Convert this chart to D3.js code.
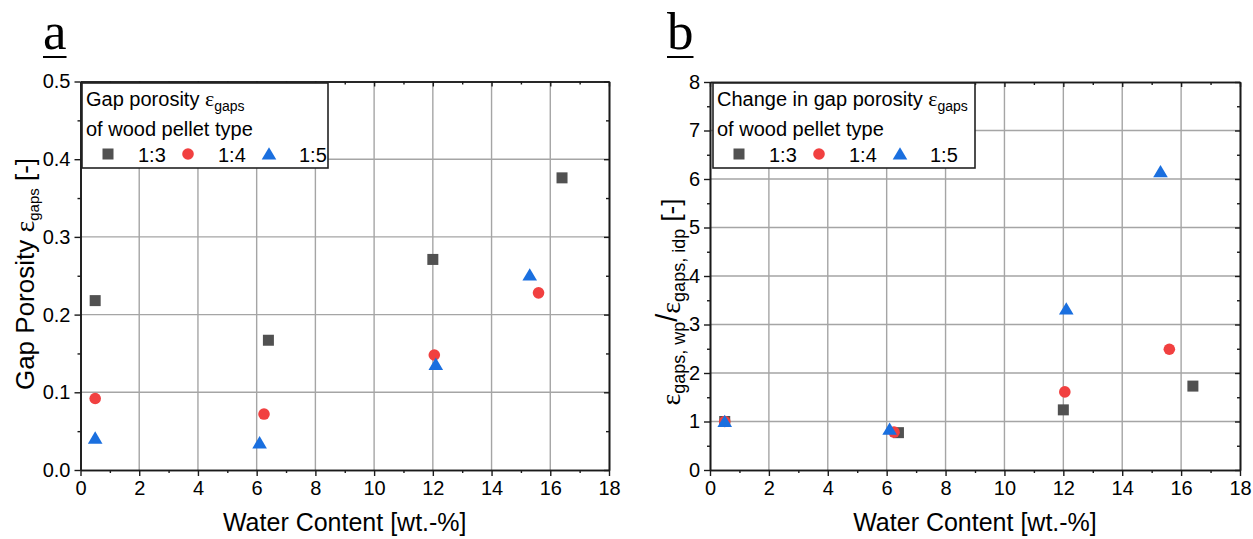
<!DOCTYPE html>
<html>
<head>
<meta charset="utf-8">
<script src="https://cdn.jsdelivr.net/npm/d3@7"></script>
<style>
  body { margin: 0; background: #fff; }
  svg { display: block; }
  text { font-family: "Liberation Sans", Arial, sans-serif; fill: #000; }
</style>
</head>
<body>
<svg id="chart" width="1253" height="539"></svg>
<script>
// Pellet types (mass ratios)
const seriesNames = ["1:3", "1:4", "1:5"];

// Water content [wt.-%] per pellet type
const water13 = [0.5, 6.4, 12.0, 16.4];
const water14 = [0.5, 6.25, 12.05, 15.6];
const water15 = [0.5, 6.1, 12.1, 15.3];

// Gap porosity [-]
const gap13 = [0.218, 0.167, 0.271, 0.376];
const gap14 = [0.092, 0.072, 0.148, 0.228];
const gap15 = [0.041, 0.035, 0.136, 0.251];

// Gap porosity relative to the initial (dry) state [-]
const ratio13 = [1.0, 0.77, 1.24, 1.73];
const ratio14 = [1.0, 0.78, 1.61, 2.49];
const ratio15 = [1.0, 0.84, 3.32, 6.15];

// Tick values
const xTicks = [0, 2, 4, 6, 8, 10, 12, 14, 16, 18];
const xMinor = [1, 3, 5, 7, 9, 11, 13, 15, 17];
const yTicksA = [0, 0.1, 0.2, 0.3, 0.4, 0.5];
const yMinorA = [0.05, 0.15, 0.25, 0.35, 0.45];
const yTicksB = [0, 1, 2, 3, 4, 5, 6, 7, 8];
const yMinorB = [0.5, 1.5, 2.5, 3.5, 4.5, 5.5, 6.5, 7.5];

const colors = ["#515151", "#F14040", "#1A6FDF"];
const shapes = ["square", "circle", "triangle"];
const serif = '"Liberation Serif", "Times New Roman", serif';

const svg = d3.select("#chart");

function marker(g, shape, color, x, y) {
  if (shape === "square") {
    g.append("rect").attr("x", x - 5.5).attr("y", y - 5.5)
      .attr("width", 11).attr("height", 11).attr("fill", color);
  } else if (shape === "circle") {
    g.append("circle").attr("cx", x).attr("cy", y).attr("r", 5.8).attr("fill", color);
  } else {
    g.append("path").attr("d", `M${x},${y - 6.8}L${x + 7.3},${y + 5.6}L${x - 7.3},${y + 5.6}Z`)
      .attr("fill", color);
  }
}

function panel(cfg) {
  const { left, right, top, bottom } = cfg.box;
  const x = d3.scaleLinear().domain([0, 18]).range([left, right]);
  const y = d3.scaleLinear().domain(cfg.yDomain).range([bottom, top]);
  const g = svg.append("g");

  // grid
  const grid = g.append("g").attr("stroke", "#a5a5a5").attr("stroke-width", 1.4);
  xTicks.slice(1, -1).forEach(t => grid.append("line")
    .attr("x1", x(t)).attr("x2", x(t)).attr("y1", top).attr("y2", bottom));
  cfg.yTicks.slice(1, -1).forEach(t => grid.append("line")
    .attr("x1", left).attr("x2", right).attr("y1", y(t)).attr("y2", y(t)));

  // axes: outward ticks on bottom/left, inward on top/right
  const styleAxis = sel => {
    sel.select(".domain").attr("stroke", "#1a1a1a").attr("stroke-width", 1.6);
    sel.selectAll(".tick line").attr("stroke", "#1a1a1a").attr("stroke-width", 1.4);
    sel.selectAll(".tick text").attr("font-size", 20).attr("fill", "#000")
      .style("font-family", '"Liberation Sans", Arial, sans-serif');
  };
  g.append("g").attr("transform", `translate(0,${bottom})`)
    .call(d3.axisBottom(x).tickValues(xTicks).tickSize(6).tickSizeOuter(0).tickPadding(5).tickFormat(d3.format("d")))
    .call(styleAxis);
  g.append("g").attr("transform", `translate(0,${bottom})`)
    .call(d3.axisBottom(x).tickValues(xMinor).tickSize(3).tickSizeOuter(0).tickFormat(""))
    .call(styleAxis);
  g.append("g").attr("transform", `translate(${left},0)`)
    .call(d3.axisLeft(y).tickValues(cfg.yTicks).tickSize(6).tickSizeOuter(0).tickPadding(4).tickFormat(cfg.yFormat))
    .call(styleAxis);
  g.append("g").attr("transform", `translate(${left},0)`)
    .call(d3.axisLeft(y).tickValues(cfg.yMinor).tickSize(3).tickSizeOuter(0).tickFormat(""))
    .call(styleAxis);
  g.append("g").attr("transform", `translate(0,${top})`)
    .call(d3.axisTop(x).tickValues(xTicks).tickSize(-5).tickSizeOuter(0).tickFormat(""))
    .call(styleAxis);
  g.append("g").attr("transform", `translate(0,${top})`)
    .call(d3.axisTop(x).tickValues(xMinor).tickSize(-3).tickSizeOuter(0).tickFormat(""))
    .call(styleAxis);
  g.append("g").attr("transform", `translate(${right},0)`)
    .call(d3.axisRight(y).tickValues(cfg.yTicks).tickSize(-5).tickSizeOuter(0).tickFormat(""))
    .call(styleAxis);
  g.append("g").attr("transform", `translate(${right},0)`)
    .call(d3.axisRight(y).tickValues(cfg.yMinor).tickSize(-3).tickSizeOuter(0).tickFormat(""))
    .call(styleAxis);

  // x title
  g.append("text").attr("x", (left + right) / 2).attr("y", 531)
    .attr("text-anchor", "middle").attr("font-size", 25).text("Water Content [wt.-%]");

  // data
  const pts = g.append("g");
  cfg.series.forEach((s, i) => {
    s.xs.forEach((wx, k) => marker(pts, shapes[i], colors[i], x(wx), y(s.ys[k])));
  });

  // legend
  const lg = g.append("g").attr("transform", `translate(${cfg.legend.x},${cfg.legend.y})`);
  lg.append("rect").attr("x", 0).attr("y", 0).attr("width", cfg.legend.w).attr("height", 85)
    .attr("fill", "#fff").attr("stroke", "#222").attr("stroke-width", 1.6);
  const l1 = lg.append("text").attr("x", 4).attr("y", 23).attr("font-size", 20);
  l1.append("tspan").text(cfg.legendTitle + " ");
  l1.append("tspan").style("font-family", serif).attr("font-size", 22).text("ε");
  l1.append("tspan").attr("font-size", 14).attr("dy", 5).text("gaps");
  lg.append("text").attr("x", 4).attr("y", 53).attr("font-size", 20).text("of wood pellet type");
  const symX = [26, 106, 187];
  seriesNames.forEach((name, i) => {
    marker(lg, shapes[i], colors[i], symX[i], 71);
    lg.append("text").attr("x", symX[i] + 30).attr("y", 79).attr("font-size", 20).text(name);
  });

  // panel letter
  const letter = svg.append("text").attr("x", cfg.letterX).attr("y", 49)
    .attr("font-size", 53).style("font-family", serif)
    .text(cfg.letter);
  const bb = letter.node().getBBox();
  svg.append("line").attr("x1", bb.x).attr("x2", bb.x + bb.width).attr("y1", 57).attr("y2", 57)
    .attr("stroke", "#000").attr("stroke-width", 2);

  return { x, y, g };
}

panel({
  box: { left: 80.5, right: 609, top: 81.5, bottom: 470 },
  yDomain: [0, 0.5], yTicks: yTicksA, yMinor: yMinorA, yFormat: d3.format(".1f"),
  series: [{ xs: water13, ys: gap13 }, { xs: water14, ys: gap14 }, { xs: water15, ys: gap15 }],
  legend: { x: 82, y: 83, w: 246 }, legendTitle: "Gap porosity",
  letter: "a", letterX: 43
});

panel({
  box: { left: 710, right: 1240, top: 82, bottom: 470 },
  yDomain: [0, 8], yTicks: yTicksB, yMinor: yMinorB, yFormat: d3.format("d"),
  series: [{ xs: water13, ys: ratio13 }, { xs: water14, ys: ratio14 }, { xs: water15, ys: ratio15 }],
  legend: { x: 713, y: 83, w: 262 }, legendTitle: "Change in gap porosity",
  letter: "b", letterX: 667
});

// y titles
const ta = svg.append("text").attr("transform", "translate(34,274) rotate(-90)")
  .attr("text-anchor", "middle").attr("font-size", 26);
ta.append("tspan").text("Gap Porosity ");
ta.append("tspan").style("font-family", serif).attr("font-size", 28).text("ε");
ta.append("tspan").attr("font-size", 15).attr("dy", 5).text("gaps");
ta.append("tspan").attr("dy", -5).text(" [-]");

const tb = svg.append("text").attr("transform", "translate(680,302) rotate(-90)")
  .attr("text-anchor", "middle").attr("font-size", 26);
tb.append("tspan").style("font-family", serif).attr("font-size", 28).text("ε");
tb.append("tspan").attr("font-size", 18).attr("dy", 5).text("gaps, wp");
tb.append("tspan").attr("font-size", 29).attr("dy", -8).text("/");
tb.append("tspan").attr("dy", 3).style("font-family", serif).attr("font-size", 28).text("ε");
tb.append("tspan").attr("font-size", 18).attr("dy", 5).text("gaps, idp");
tb.append("tspan").attr("dy", -5).text(" [-]");
</script>
</body>
</html>
